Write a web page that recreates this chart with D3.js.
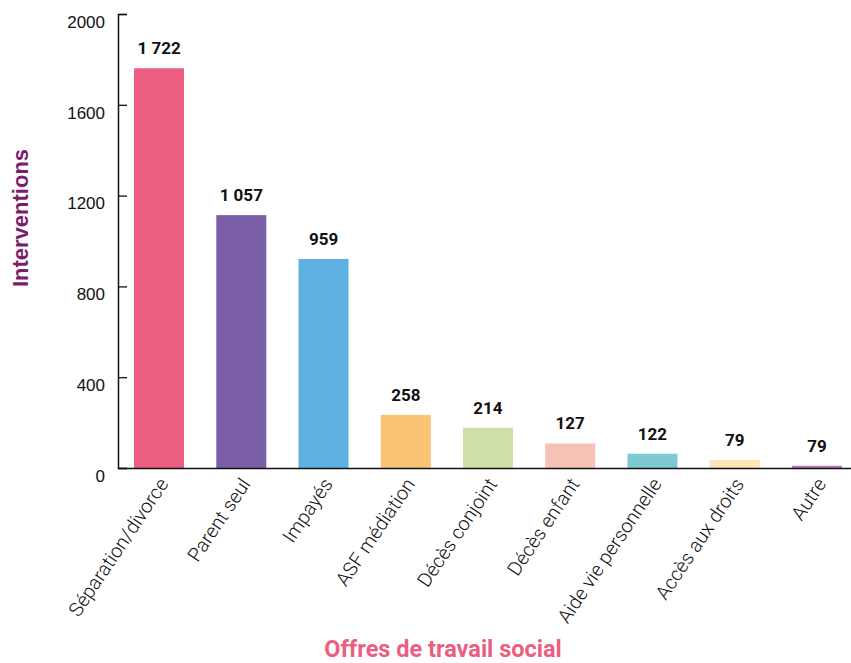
<!DOCTYPE html>
<html>
<head>
<meta charset="utf-8">
<script src="https://cdn.jsdelivr.net/npm/d3@7"></script>
<style>
  body { margin: 0; background: #fff; }
  svg { display: block; }
</style>
</head>
<body>
<svg width="851" height="663"></svg>
<script>
// categories and values
var categories = ["Séparation/divorce", "Parent seul", "Impayés", "ASF médiation", "Décès conjoint",
  "Décès enfant", "Aide vie personnelle", "Accès aux droits", "Autre"];
// bar heights as drawn (they do not quite follow the printed labels)
var barValues = [1761, 1114, 921, 234, 177, 108, 63, 36, 10];
// printed labels above the bars
var valueLabels = ["1 722", "1 057", "959", "258", "214", "127", "122", "79", "79"];
var barColors = ["#eb5e80", "#7b5fa6", "#5eb1e0", "#f8c373", "#cfe0a9", "#f6c2b6", "#7ecad0", "#fde6b6", "#b77bbb"];
var yTicks = [0, 400, 800, 1200, 1600, 2000];

var svg = d3.select("svg"),
  x = d3.scaleBand().domain(categories).range([118, 858]).paddingInner(0.392).paddingOuter(0.195),
  y = d3.scaleLinear().domain([0, 2000]).range([468, 14]);

// y axis, ticks pointing inward
let yAxis = svg.append("g")
  .attr("transform", "translate(118,0)")
  .call(d3.axisLeft(y).tickValues(yTicks).tickFormat(d3.format("d"))
    .tickSizeInner(-9).tickSizeOuter(-9).tickPadding(13));
yAxis.select(".domain").attr("stroke", "#111").attr("stroke-width", 1.5);
yAxis.selectAll(".tick line").attr("stroke", "#111").attr("stroke-width", 1.3);
yAxis.selectAll(".tick text")
  .attr("font-family", "'Liberation Sans', Arial, sans-serif")
  .attr("font-size", 17)
  .attr("fill", "#111")
  .attr("dy", "0.78em");

// bars
svg.append("g").selectAll("rect")
  .data(categories)
  .join("rect")
  .attr("x", d => x(d))
  .attr("width", x.bandwidth())
  .attr("y", (d, i) => y(barValues[i]))
  .attr("height", (d, i) => y(0) - y(barValues[i]))
  .attr("fill", (d, i) => barColors[i]);

// value labels
svg.append("g").selectAll("text")
  .data(categories)
  .join("text")
  .attr("x", d => x(d) + x.bandwidth() / 2)
  .attr("y", (d, i) => y(barValues[i]) - 14)
  .attr("text-anchor", "middle")
  .attr("font-family", "Roboto, sans-serif")
  .attr("font-weight", 700)
  .attr("font-size", 17)
  .attr("fill", "#111")
  .text((d, i) => valueLabels[i]);

// x axis
let xAxis = svg.append("g")
  .attr("transform", "translate(0,468)")
  .call(d3.axisBottom(x).tickSize(0).tickPadding(0));
xAxis.select(".domain").attr("stroke", "#111").attr("stroke-width", 1.5);
xAxis.selectAll(".tick text")
  .attr("font-family", "Roboto, sans-serif")
  .attr("font-weight", 300)
  .attr("font-size", 19.5)
  .attr("fill", "#111")
  .attr("text-anchor", "end")
  .attr("dy", 0)
  .attr("transform", "translate(10,16) rotate(-56)");

// axis titles
svg.append("text")
  .attr("transform", "translate(28,218) rotate(-90)")
  .attr("text-anchor", "middle")
  .attr("font-family", "'Liberation Sans', Arial, sans-serif")
  .attr("font-weight", 700)
  .attr("font-size", 22)
  .attr("fill", "#7a1d6e")
  .text("Interventions");

svg.append("text")
  .attr("x", 443)
  .attr("y", 657)
  .attr("text-anchor", "middle")
  .attr("font-family", "Roboto, sans-serif")
  .attr("font-weight", 700)
  .attr("font-size", 23.5)
  .attr("fill", "#eb5e80")
  .text("Offres de travail social");
</script>
</body>
</html>
